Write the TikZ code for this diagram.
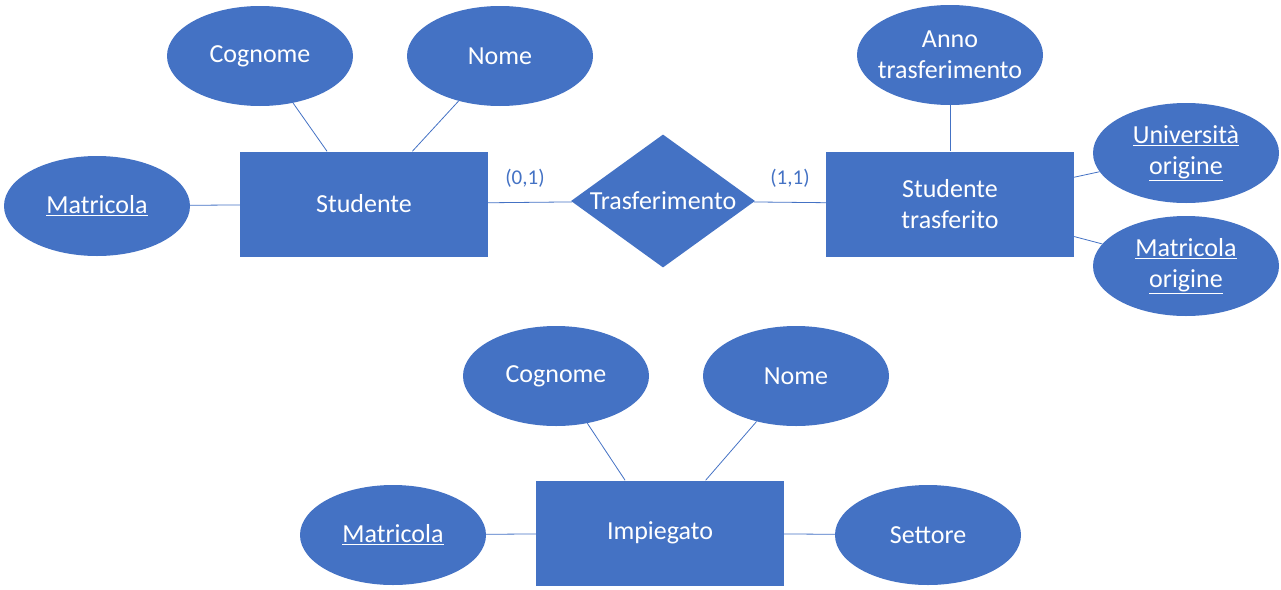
\documentclass[tikz,border=0pt]{standalone}
\usepackage{fontspec}
\setmainfont{Carlito}
\usetikzlibrary{shapes.geometric}
\definecolor{erblue}{HTML}{4472C4}
\begin{document}
\begin{tikzpicture}[x=1pt,y=-1pt,
  every node/.style={font=\fontsize{26}{31}\selectfont, text=white, inner sep=0pt},
  attr/.style={ellipse, fill=erblue, minimum width=186pt, minimum height=100pt, align=center},
  ent/.style={rectangle, fill=erblue, minimum width=248pt, minimum height=105pt, align=center},
  rel/.style={diamond, fill=erblue, aspect=1.383, minimum width=184pt, minimum height=133pt},
  conn/.style={draw=erblue, line width=0.8pt},
  card/.style={font=\fontsize{21}{25}\selectfont, text=erblue}]
\useasboundingbox (0,0) rectangle (1281,589);
% top part
\node[ent] (stud) at (364,204) {Studente};
\node[attr] (cog1) at (260,56) {Cognome};
\node[attr] (nom1) at (500,56) {Nome};
\node[attr] (mat1) at (97,206) {\underline{Matricola}};
\node[rel] (tras) at (663,201) {Trasferimento};
\node[ent] (stt) at (950,204) {Studente\\trasferito};
\node[attr, label={[align=center]center:Anno\\trasferimento}] (anno) at (950,55) {};
\node[attr] (univ) at (1186,153) {\underline{Università}\\\underline{origine}};
\node[attr] (mato) at (1186,266) {\underline{Matricola}\\\underline{origine}};
\node[card] (c01) at (525,178) {(0,1)};
\node[card] (c11) at (790,178) {(1,1)};
\draw[conn] (cog1) -- (stud);
\draw[conn] (nom1) -- (stud);
\draw[conn] (mat1) -- (stud);
\draw[conn] (stud) -- (tras);
\draw[conn] (tras) -- (stt);
\draw[conn] (anno) -- (stt);
\draw[conn] (univ) -- (stt);
\draw[conn] (mato) -- (stt);
% bottom part
\node[ent] (imp) at (660,533) {Impiegato};
\node[attr] (cog2) at (556,376) {Cognome};
\node[attr] (nom2) at (796,376) {Nome};
\node[attr] (mat2) at (393,535) {\underline{Matricola}};
\node[attr] (set) at (928,535) {Settore};
\draw[conn] (cog2) -- (imp);
\draw[conn] (nom2) -- (imp);
\draw[conn] (mat2) -- (imp);
\draw[conn] (set) -- (imp);
\end{tikzpicture}
\end{document}
